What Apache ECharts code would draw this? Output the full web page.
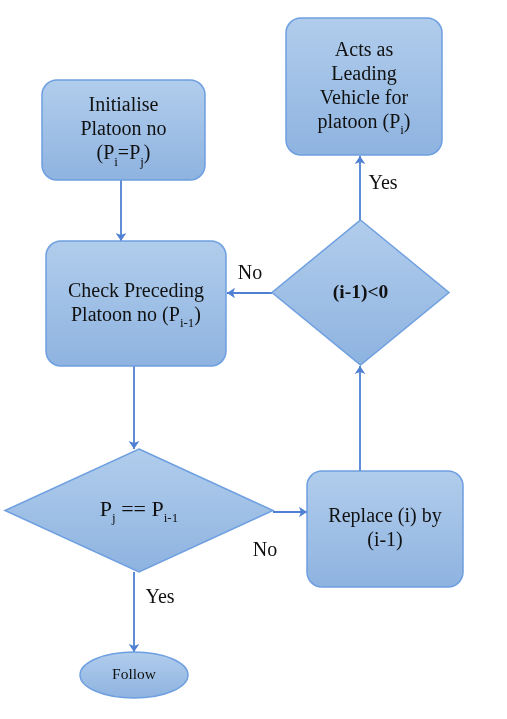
<!DOCTYPE html>
<html style="height: 100%">
    <head>
        <meta charset="utf-8">
    </head>
    <body style="height: 100%; margin: 0; background: #fff">
        <div id="container" style="height: 100%"></div>
        <script type="text/javascript" src="https://cdn.jsdelivr.net/npm/echarts@6/dist/echarts.min.js"></script>
        <script type="text/javascript">
// flowchart nodes
var nodeKinds = ['box', 'box', 'diamond', 'box', 'diamond', 'box', 'ellipse'];
var nodeTexts = [
    'Initialise\nPlatoon no\n(P{s|i}=P{s|j})',
    'Check Preceding\nPlatoon no (P{s|i-1})',
    '{b|P}{s|j}{b| == P}{s|i-1}',
    'Replace (i) by\n(i-1)',
    '{bold|(i-1)<0}',
    'Acts as\nLeading\nVehicle for\nplatoon (P{s|i})',
    '{f|Follow}'
];
// node bounds in page pixels: left, top, right, bottom
var nodeBounds = [
    [42, 80, 205, 180],
    [46, 241, 226, 366],
    [5, 449, 273, 572],
    [307, 471, 463, 587],
    [272, 220, 449, 365],
    [286, 18, 442, 155],
    [80, 652, 188, 698]
];
// connectors: from point -> to point
var edges = [
    [[121, 180], [121, 241]],
    [[134, 366], [134, 449]],
    [[273, 512], [307, 512]],
    [[360, 471], [360, 366]],
    [[272, 293], [227, 293]],
    [[360, 220], [360, 156]],
    [[134, 572], [134, 652]]
];
var edgeLabels = ['No', 'Yes', 'No', 'Yes'];
var edgeLabelPos = [[250, 274], [383, 184], [265, 551], [160, 598]];

var dom = document.getElementById('container');
var myChart = echarts.init(dom);

var serif = '"Liberation Serif", "DejaVu Serif", serif';

function renderNode(params, api) {
    var i = params.dataIndex;
    var p0 = api.coord([api.value(0), api.value(1)]);
    var p1 = api.coord([api.value(2), api.value(3)]);
    var w = p1[0] - p0[0];
    var h = p1[1] - p0[1];
    var cx = p0[0] + w / 2;
    var cy = p0[1] + h / 2;
    var kind = nodeKinds[i];
    var shapeEl;
    var style = {
        fill: new echarts.graphic.LinearGradient(0, 0, 0, 1, [
            {offset: 0, color: '#b1cdec'},
            {offset: 1, color: '#8eb3e0'}
        ]),
        stroke: '#6e9fe0',
        lineWidth: 1.5
    };
    if (kind === 'box') {
        shapeEl = {type: 'rect', shape: {x: p0[0], y: p0[1], width: w, height: h, r: 15}, style: style};
    } else if (kind === 'diamond') {
        shapeEl = {type: 'polygon', shape: {points: [[cx, p0[1]], [p1[0], cy], [cx, p1[1]], [p0[0], cy]]}, style: style};
    } else {
        shapeEl = {type: 'ellipse', shape: {cx: cx, cy: cy, rx: w / 2, ry: h / 2}, style: style};
    }
    return {
        type: 'group',
        children: [shapeEl, {
            type: 'text',
            x: cx,
            y: cy,
            style: {
                text: nodeTexts[i],
                x: 0,
                y: 0,
                align: 'center',
                verticalAlign: 'middle',
                fill: '#111',
                font: '20px ' + serif,
                lineHeight: 24,
                rich: {
                    s: {fontSize: 13, fontFamily: 'Liberation Serif', fill: '#111', lineHeight: 13, padding: [17, 0, 0, 0]},
                    b: {fontSize: 22, fontFamily: 'Liberation Serif', fill: '#111'},
                    bold: {fontSize: 19.5, fontWeight: 'bold', fontFamily: 'Liberation Serif', fill: '#111'},
                    f: {fontSize: 15.5, fontFamily: 'Liberation Serif', fill: '#111'}
                }
            }
        }]
    };
}

function renderLabel(params, api) {
    var p = api.coord([api.value(0), api.value(1)]);
    return {
        type: 'text',
        x: p[0],
        y: p[1],
        style: {
            text: edgeLabels[params.dataIndex],
            align: 'center',
            verticalAlign: 'middle',
            fill: '#111',
            font: '20px ' + serif
        }
    };
}

var option = {
    backgroundColor: '#fff',
    animation: false,
    grid: {left: 0, right: 0, top: 0, bottom: 0},
    xAxis: {type: 'value', min: 0, max: 507, show: false},
    yAxis: {type: 'value', min: 0, max: 719, inverse: true, show: false},
    series: [{
        type: 'lines',
        coordinateSystem: 'cartesian2d',
        symbol: ['none', 'arrow'],
        symbolSize: [6, 8],
        lineStyle: {color: '#4f80d3', width: 1.8, opacity: 1},
        data: edges.map(function (e) {
            return {coords: e};
        }),
        z: 1
    }, {
        type: 'custom',
        renderItem: renderNode,
        data: nodeBounds,
        z: 2
    }, {
        type: 'custom',
        renderItem: renderLabel,
        data: edgeLabelPos,
        z: 3
    }]
};

myChart.setOption(option);
        </script>
    </body>
</html>
